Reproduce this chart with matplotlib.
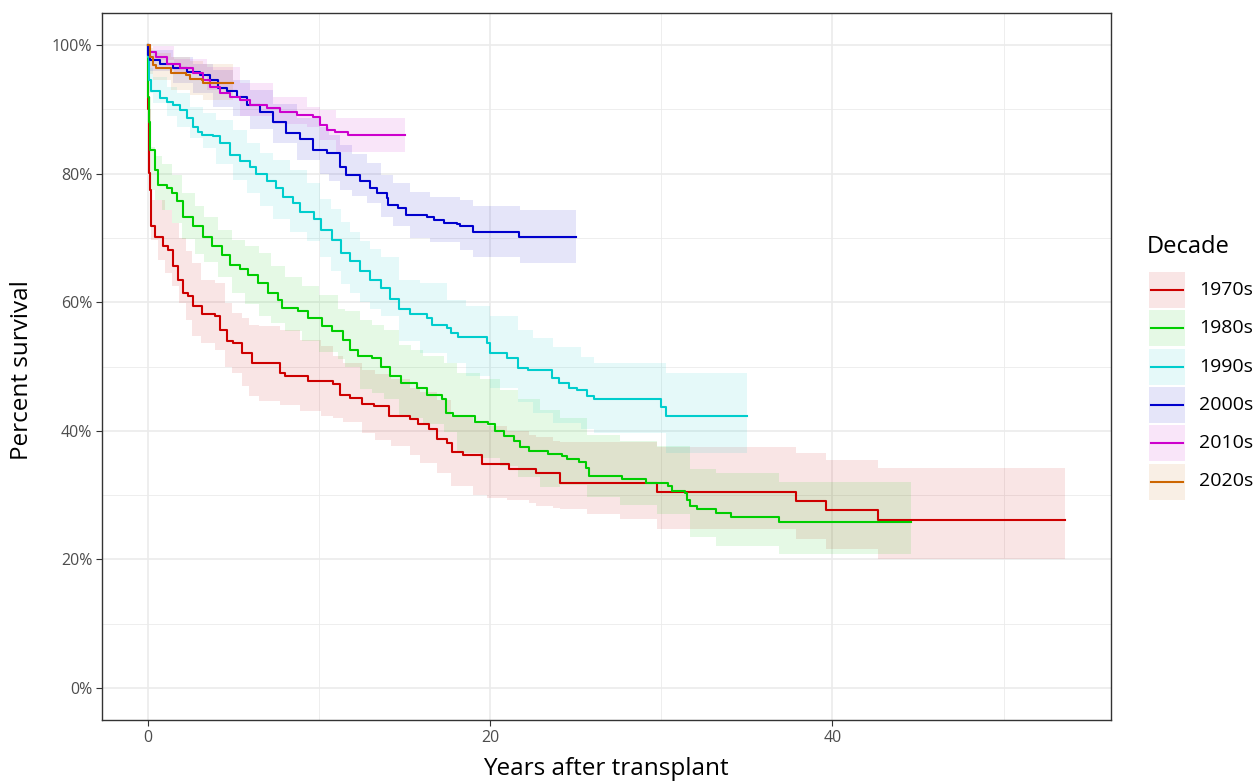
import matplotlib
matplotlib.use("Agg")
import matplotlib.pyplot as plt
from matplotlib.patches import Rectangle
from matplotlib.lines import Line2D
from matplotlib.ticker import FuncFormatter, FixedLocator

plt.rcParams['font.family'] = ['Open Sans', 'DejaVu Sans']

# ---------------- data ----------------
decades = ['1970s', '1980s', '1990s', '2000s', '2010s', '2020s']
colors = ['#CD0000', '#00CD00', '#00CDCD', '#0000CD', '#CD00CD', '#CD6600']

# 1970s
t70 = [0, 0.03, 0.06, 0.12, 0.21, 0.41, 0.9, 1.19, 1.48, 1.77, 2.07, 2.36, 2.65, 3.14,
       3.92, 4.2, 4.6, 5.0, 5.5, 6.06, 7.72, 8.0, 9.37, 10.8, 11.23, 11.81, 12.5, 13.2,
       14.1, 15.3, 15.8, 16.4, 16.9, 17.5, 17.8, 18.4, 19.5, 21.1, 22.7, 24.1, 29.75,
       37.9, 39.65, 42.65, 53.6]
s70 = [100, 90, 80.1, 77.5, 71.8, 70.2, 68.7, 68.2, 65.6, 63.5, 61.4, 60.9, 59.4, 58.1,
       57.8, 55.7, 53.9, 53.6, 52.1, 50.5, 49.0, 48.5, 47.7, 47.2, 45.6, 45.1, 44.1, 43.8,
       42.3, 41.8, 41.0, 40.2, 38.7, 38.1, 36.7, 36.2, 34.9, 34.1, 33.5, 31.8, 30.5,
       29.0, 27.6, 26.1, 26.1]
bt70 = [0, 0.05, 0.2, 0.6, 1.0, 1.4, 1.8, 2.2, 2.55, 3.1, 3.9, 4.5, 4.9, 5.5, 5.9, 6.5,
        7.7, 8.9, 10.1, 10.8, 11.4, 12.5, 13.3, 14.2, 15.3, 15.9, 16.9, 17.7, 19.0, 19.8,
        21.0, 22.3, 22.7, 23.7, 24.1, 25.65, 27.6, 29.75, 31.5, 37.9, 39.65, 42.65, 53.6]
up70 = [100, 90, 75.9, 75.9, 74.4, 72.3, 70.0, 68.0, 66.1, 63.5, 63.0, 59.9, 58.3, 57.5,
        56.5, 56.3, 55.7, 54.2, 53.2, 51.6, 50.6, 49.5, 48.8, 48.0, 46.7, 46.0, 44.8, 42.3,
        41.3, 40.7, 40.0, 39.4, 39.0, 38.4, 38.3, 38.3, 38.3, 37.5, 37.5, 36.5, 35.4, 34.2,
        34.2]
lo70 = [100, 80, 69.7, 66.6, 64.5, 62.5, 59.9, 57.3, 54.7, 53.7, 52.6, 50.0, 49.0, 46.9,
        45.4, 44.6, 44.0, 43.1, 42.3, 42.0, 41.3, 39.7, 38.6, 37.6, 36.3, 35.0, 33.5, 31.4,
        30.0, 29.6, 29.2, 28.8, 28.3, 28.0, 27.8, 27.0, 26.2, 24.7, 24.7, 23.1, 21.6, 20.0,
        20.0]

# 1980s
t80 = [0, 0.02, 0.05, 0.12, 0.41, 0.6, 1.09, 1.39, 1.68, 2.07, 2.65, 3.23, 3.72, 4.31,
       4.8, 5.38, 5.87, 6.45, 7.04, 7.62, 7.82, 8.79, 9.37, 10.16, 10.74, 11.42, 11.8,
       12.3, 13.1, 13.6, 14.15, 14.8, 15.7, 16.3, 17.2, 17.4, 17.85, 19.1, 19.9, 20.3,
       20.8, 21.4, 21.75, 22.3, 23.4, 24.2, 24.5, 25.2, 25.6, 25.75, 27.7, 29.1, 30.4,
       30.6, 31.4, 31.5, 31.7, 32.1, 33.2, 34.1, 36.9, 44.6]
s80 = [100, 92, 88, 83.7, 80.6, 78.3, 77.7, 77.0, 75.7, 73.3, 71.8, 70.2, 68.7, 67.4,
       65.8, 65.1, 64.3, 63.0, 61.4, 60.4, 59.1, 58.6, 57.5, 56.3, 55.5, 54.2, 52.6,
       51.6, 51.3, 50.0, 48.5, 47.4, 46.7, 45.6, 44.9, 42.8, 42.3, 41.4, 41.0, 40.0,
       39.2, 38.4, 37.4, 36.8, 36.4, 36.1, 35.6, 35.1, 34.2, 33.0, 32.5, 31.9, 31.4,
       30.6, 30.3, 29.3, 28.3, 27.8, 27.2, 26.6, 25.8, 25.8]
bt80 = [0, 0.05, 0.2, 0.4, 0.8, 1.4, 2.0, 2.75, 3.3, 4.1, 4.9, 5.7, 6.5, 7.2, 8.0, 9.0,
        10.0, 11.1, 11.5, 12.4, 13.1, 13.8, 14.7, 15.4, 16.1, 17.3, 18.05, 19.4, 20.6,
        21.6, 22.9, 24.1, 25.65, 27.6, 29.75, 31.7, 33.2, 36.9, 44.6]
up80 = [100, 92, 84.2, 82.7, 81.5, 79.8, 77.0, 74.9, 73.3, 71.3, 69.7, 68.7, 67.6, 65.6,
        64.0, 62.5, 61.2, 58.9, 58.6, 57.3, 56.5, 55.7, 53.4, 52.5, 51.6, 50.6, 49.0,
        48.0, 46.4, 44.9, 43.3, 42.0, 39.4, 38.4, 37.6, 34.0, 33.5, 32.0, 31.9]
lo80 = [100, 84, 77.5, 75.9, 74.4, 72.3, 69.8, 67.5, 66.3, 64.0, 61.5, 59.8, 57.8, 56.8,
        55.5, 54.0, 52.3, 51.2, 50.0, 46.5, 45.8, 44.9, 42.1, 42.0, 41.0, 39.8, 36.5,
        35.7, 34.5, 32.8, 31.3, 31.5, 29.7, 28.4, 27.1, 23.5, 22.1, 20.8, 20.8]

# 1990s
t90 = [0, 0.02, 0.05, 0.2, 0.7, 1.09, 1.48, 1.87, 2.26, 2.65, 2.94, 3.14, 3.82, 4.2, 4.8,
       5.38, 5.96, 6.3, 6.94, 7.5, 7.91, 8.5, 8.9, 9.7, 10.1, 10.74, 11.3, 11.8, 12.4, 13.0,
       13.6, 14.15, 14.7, 15.3, 16.3, 16.6, 17.5, 17.7, 18.1, 19.8, 20.0, 21.0, 21.6, 22.2,
       23.6, 24.0, 24.6, 25.1, 25.65, 26.05, 30.0, 30.3, 35.0]
s90 = [100, 98.2, 94.6, 92.8, 91.7, 91.2, 90.7, 89.9, 88.6, 87.3, 86.5, 86.0, 85.8, 84.7,
       82.9, 81.9, 81.1, 80.0, 78.8, 77.7, 76.4, 75.4, 74.0, 73.0, 71.3, 69.7, 67.6, 66.4,
       64.8, 63.5, 62.2, 60.5, 58.9, 58.1, 57.6, 56.5, 56.0, 55.2, 54.6, 53.7, 52.1, 51.3,
       49.8, 49.4, 48.2, 47.5, 46.7, 46.3, 45.4, 44.9, 43.7, 42.3, 42.3]
bt90 = [0, 0.05, 0.3, 1.09, 1.68, 2.46, 3.23, 4.0, 5.0, 5.77, 6.55, 7.33, 8.3, 9.28,
        10.06, 10.7, 11.3, 11.8, 12.4, 13.0, 13.6, 14.7, 15.9, 17.5, 18.6, 20.0, 21.6, 22.5,
        23.7, 25.3, 26.05, 30.3, 35.0]
up90 = [100, 96.5, 95.1, 93.5, 92.5, 90.4, 89.4, 88.4, 86.8, 84.7, 83.2, 82.1, 80.6, 78.5,
        76.0, 74.5, 72.5, 71.0, 69.5, 68.3, 67.1, 63.5, 63.0, 60.4, 59.4, 57.8, 55.7, 54.5,
        53.1, 51.5, 50.6, 49.0, 49.0]
lo90 = [100, 92.5, 91.0, 88.9, 87.3, 85.5, 84.0, 81.5, 79.0, 77.0, 75.0, 73.0, 71.0, 69.5,
        67.0, 64.9, 62.8, 61.5, 60.0, 58.9, 57.8, 54.0, 52.1, 50.6, 48.5, 46.6, 44.5, 42.8,
        41.2, 40.2, 39.7, 36.6, 36.6]

# 2000s
t00 = [0, 0.02, 0.1, 0.7, 1.48, 2.26, 3.04, 3.63, 4.1, 4.6, 5.2, 5.77, 6.55, 7.33, 8.1,
       8.9, 9.67, 10.45, 11.2, 11.6, 12.4, 13.0, 13.4, 13.96, 14.05, 14.6, 15.1, 16.3, 16.7,
       17.3, 18.05, 18.25, 19.0, 21.7, 25.0]
s00 = [100, 98.4, 97.7, 97.1, 96.4, 95.8, 95.3, 94.6, 93.3, 92.8, 92.0, 90.7, 89.6, 88.1,
       86.3, 85.4, 83.7, 83.2, 81.1, 79.8, 78.8, 77.7, 77.0, 76.2, 75.2, 74.6, 73.6, 73.3,
       72.8, 72.4, 72.1, 71.8, 71.0, 70.1, 70.1]
bt00 = [0, 0.1, 1.48, 2.65, 3.82, 5.0, 5.96, 7.33, 8.7, 10.06, 10.6, 11.2, 11.9, 12.8,
        13.6, 14.35, 15.3, 16.5, 18.25, 19.0, 21.75, 25.0]
up00 = [100, 99.2, 98.2, 97.1, 96.1, 94.6, 93.0, 90.9, 88.6, 87.3, 86.0, 84.5, 83.0, 81.6,
        79.8, 78.5, 77.2, 76.4, 75.9, 74.9, 74.4, 74.4]
lo00 = [100, 96.0, 94.1, 92.5, 90.4, 88.9, 87.0, 84.7, 82.1, 79.9, 78.8, 77.5, 76.5, 75.4,
        73.3, 71.8, 70.0, 69.3, 68.2, 67.1, 66.1, 66.1]

# 2010s
t10 = [0, 0.1, 0.5, 1.09, 1.87, 2.65, 3.23, 3.63, 4.2, 4.8, 5.38, 5.96, 6.94, 7.72, 8.7,
       9.67, 10.06, 10.45, 10.94, 11.7, 15.0]
s10 = [100, 99.0, 98.2, 97.1, 96.4, 95.6, 94.6, 93.5, 92.5, 92.0, 91.5, 90.7, 90.2, 89.6,
       89.1, 88.8, 87.6, 86.8, 86.5, 86.0, 86.0]
bt10 = [0, 0.3, 1.5, 3.43, 5.38, 7.33, 9.28, 10.06, 11.0, 15.0]
up10 = [100, 99.8, 97.9, 96.6, 94.1, 92.0, 90.4, 89.9, 88.6, 88.6]
lo10 = [100, 97.7, 95.6, 93.0, 89.0, 87.7, 87.2, 85.3, 83.3, 83.2]

# 2020s
t20 = [0, 0.1, 0.3, 0.5, 1.38, 2.2, 2.46, 3.14, 3.23, 5.0]
s20 = [100, 98.2, 96.9, 96.4, 95.7, 95.3, 94.8, 94.6, 94.1, 94.1]
bt20 = [0, 0.1, 0.3, 1.38, 2.46, 3.23, 5.0]
up20 = [100, 99.5, 98.8, 98.2, 97.5, 97.0, 97.0]
lo20 = [100, 95.5, 94.5, 93.0, 92.2, 91.5, 91.5]

x_major = [0, 20, 40]
x_minor = [10, 30, 50]
y_major = [0, 20, 40, 60, 80, 100]
y_minor = [10, 30, 50, 70, 90]

series = [(t70, s70, bt70, lo70, up70), (t80, s80, bt80, lo80, up80),
          (t90, s90, bt90, lo90, up90), (t00, s00, bt00, lo00, up00),
          (t10, s10, bt10, lo10, up10), (t20, s20, bt20, lo20, up20)]

# ---------------- figure ----------------
W, H = 1253, 783
fig = plt.figure(figsize=(W / 100, H / 100), dpi=100)
L, R, T, B = 102, 1111, 13, 720
ax = fig.add_axes([L / W, 1 - B / H, (R - L) / W, (B - T) / H])

tmax = max(t70[-1], t80[-1], t90[-1])
pad = tmax * 0.05
ax.set_xlim(-pad, tmax + pad)
ax.set_ylim(-5, 105)

for x in x_minor:
    ax.axvline(x, color='#EBEBEB', lw=0.6, zorder=0)
for y in y_minor:
    ax.axhline(y, color='#EBEBEB', lw=0.6, zorder=0)
for x in x_major:
    ax.axvline(x, color='#EBEBEB', lw=1.2, zorder=0)
for y in y_major:
    ax.axhline(y, color='#EBEBEB', lw=1.2, zorder=0)

for (t, s, bt, lo, up), c in zip(series, colors):
    ax.fill_between(bt, lo, up, step='post', color=c, alpha=0.1, lw=0, zorder=1)
for (t, s, bt, lo, up), c in zip(series, colors):
    ax.step(t, s, where='post', color=c, lw=1.5, zorder=2)

ax.xaxis.set_major_locator(FixedLocator(x_major))
ax.yaxis.set_major_locator(FixedLocator(y_major))
ax.yaxis.set_major_formatter(FuncFormatter(lambda v, p: f"{v:.0f}%"))
ax.tick_params(axis='both', length=4, width=0.8, color='#333333',
               labelcolor='#4D4D4D', labelsize=11.5, pad=3)
for sp in ax.spines.values():
    sp.set_color('#333333')
    sp.set_linewidth(1.0)

# ---------------- axis titles ----------------
def fx(px):
    return px / W

def fy(py):
    return 1 - py / H

fig.text(fx(606), fy(769), 'Years after transplant', fontsize=17.5, ha='center',
         va='center', color='black')
fig.text(fx(22), fy(370), 'Percent survival', fontsize=17.5, ha='center', va='center',
         rotation=90, color='black')

# ---------------- legend ----------------
fig.text(fx(1147), fy(247), 'Decade', fontsize=17, ha='left', va='center', color='black')
key_x0, key_w, key_h, step_y, y0 = 1149, 36, 36, 38.3, 290
for i, (lab, c) in enumerate(zip(decades, colors)):
    yc = y0 + i * step_y
    fig.patches.append(Rectangle((fx(key_x0), fy(yc + key_h / 2)), key_w / W, key_h / H,
                                 transform=fig.transFigure, facecolor=c, alpha=0.1,
                                 edgecolor='none'))
    fig.lines.append(Line2D([fx(key_x0 + 2), fx(key_x0 + key_w - 2)], [fy(yc), fy(yc)],
                            transform=fig.transFigure, color=c, lw=1.5))
    fig.text(fx(1199), fy(yc), lab, fontsize=14, ha='left', va='center', color='black')

fig.savefig('out.png', dpi=100)
